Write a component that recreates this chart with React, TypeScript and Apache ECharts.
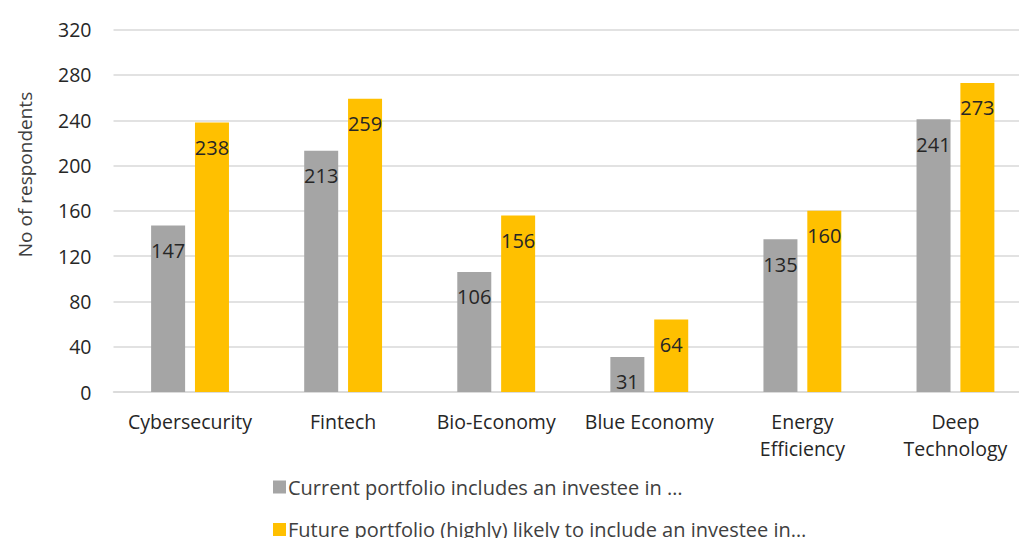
import React, { useEffect, useRef } from "react";
import * as echarts from "echarts";

const categories = ["Cybersecurity", "Fintech", "Bio-Economy", "Blue Economy", "Energy\nEfficiency", "Deep\nTechnology"];
const currentValues = [147, 213, 106, 31, 135, 241];
const futureValues = [238, 259, 156, 64, 160, 273];
const seriesNames = [
  "Current portfolio includes an investee in …",
  "Future portfolio (highly) likely to include an investee in…",
];
const yAxisTitle = "No of respondents";

const FONT = "'Open Sans', 'Noto Sans', sans-serif";

export default function App() {
  const ref = useRef<HTMLDivElement>(null);
  useEffect(() => {
    if (!ref.current) return;
    const chart = echarts.init(ref.current, undefined, { renderer: "svg" });
    const label = {
      show: true,
      position: "insideTop" as const,
      distance: 15,
      color: "#262626",
      fontSize: 20,
      fontFamily: FONT,
    };
    const legendCommon = {
      orient: "horizontal" as const,
      left: 268,
      itemWidth: 13,
      itemHeight: 13,
      icon: "rect",
      textStyle: { fontSize: 20, color: "#404040", fontFamily: FONT, padding: [0, 0, 0, -3] },
    };
    chart.setOption({
      animation: false,
      backgroundColor: "#ffffff",
      grid: { left: 113.5, right: 0, top: 29.7, bottom: 146, containLabel: false },
      legend: [
        { ...legendCommon, top: 472, data: [seriesNames[0]] },
        { ...legendCommon, top: 514.5, data: [seriesNames[1]] },
      ],
      graphic: [
        {
          type: "text",
          x: 25,
          y: 174.5,
          rotation: Math.PI / 2,
          style: {
            text: yAxisTitle,
            fontSize: 19,
            fontFamily: FONT,
            fill: "#404040",
            align: "center",
            verticalAlign: "middle",
          },
        },
      ],
      xAxis: {
        type: "category",
        data: categories,
        axisLine: { show: true, lineStyle: { color: "#d9d9d9", width: 1.5 } },
        axisTick: { show: false },
        axisLabel: {
          color: "#262626",
          fontSize: 19.5,
          fontFamily: FONT,
          margin: 16,
          lineHeight: 27,
          interval: 0,
        },
      },
      yAxis: {
        type: "value",
        min: 0,
        max: 320,
        interval: 40,
        axisLine: { show: false },
        axisTick: { show: false },
        splitLine: { lineStyle: { color: "#d9d9d9", width: 1.5 } },
        axisLabel: { color: "#262626", fontSize: 19.5, fontFamily: FONT, margin: 22 },
      },
      series: [
        {
          name: seriesNames[0],
          type: "bar",
          data: currentValues,
          barWidth: 34,
          barGap: "29%",
          itemStyle: { color: "#A5A5A5" },
          label,
        },
        {
          name: seriesNames[1],
          type: "bar",
          data: futureValues,
          barWidth: 34,
          barGap: "29%",
          itemStyle: { color: "#FFC000" },
          label,
        },
      ],
    });
    return () => chart.dispose();
  }, []);
  return (
    <div
      ref={ref}
      style={{ position: "fixed", left: 0, top: 0, width: 1032, height: 538 }}
    />
  );
}
